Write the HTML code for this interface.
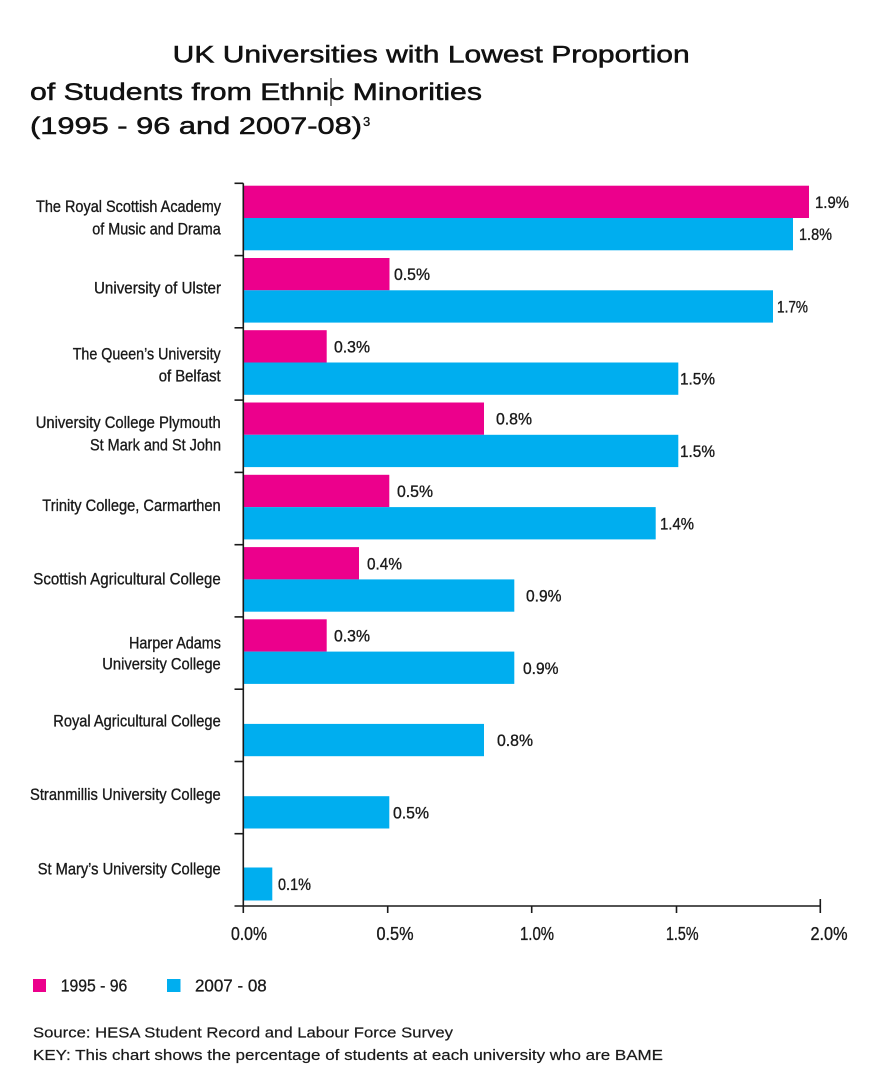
<!DOCTYPE html>
<html>
<head>
<meta charset="utf-8">
<style>
html,body{margin:0;padding:0;background:#fff;}
svg{display:block;}
text{font-family:"Liberation Sans",sans-serif;}
.t{font-size:24px;fill:#111;stroke:#111;stroke-width:0.5px;}
.c{font-size:17px;fill:#1a1a1a;stroke:#1a1a1a;stroke-width:0.35px;}
.v{font-size:16.5px;fill:#1a1a1a;stroke:#1a1a1a;stroke-width:0.35px;}
.x{font-size:18px;fill:#1a1a1a;stroke:#1a1a1a;stroke-width:0.35px;}
.l{font-size:17.5px;fill:#1a1a1a;stroke:#1a1a1a;stroke-width:0.3px;}
.s{font-size:15px;fill:#1a1a1a;stroke:#1a1a1a;stroke-width:0.2px;}
</style>
</head>
<body>
<svg width="880" height="1078" viewBox="0 0 880 1078" xmlns="http://www.w3.org/2000/svg">
<rect x="0" y="0" width="880" height="1078" fill="#fff"/>

<!-- Title -->
<text class="t" x="172.7" y="62.3" textLength="517" lengthAdjust="spacingAndGlyphs">UK Universities with Lowest Proportion</text>
<text class="t" x="30" y="100" textLength="452" lengthAdjust="spacingAndGlyphs">of Students from Ethnic Minorities</text>
<line x1="331" y1="78" x2="331" y2="106" stroke="#000" stroke-width="1"/>
<text class="t" x="30" y="134" textLength="332" lengthAdjust="spacingAndGlyphs">(1995 - 96 and 2007-08)</text>
<text x="363" y="126" style="font-size:13px;fill:#111;stroke:#111;stroke-width:0.3px;font-family:'Liberation Sans',sans-serif;">3</text>

<!-- Bars -->
<g>
<rect x="243.3" y="185.7" width="565.7" height="32.3" fill="#EC008C"/>
<rect x="243.3" y="218" width="549.7" height="32.3" fill="#00AEEF"/>
<rect x="243.3" y="258" width="146.2" height="32.3" fill="#EC008C"/>
<rect x="243.3" y="290.3" width="529.7" height="32.3" fill="#00AEEF"/>
<rect x="243.3" y="330.2" width="83.4" height="32.3" fill="#EC008C"/>
<rect x="243.3" y="362.5" width="435" height="32.3" fill="#00AEEF"/>
<rect x="243.3" y="402.5" width="240.7" height="32.3" fill="#EC008C"/>
<rect x="243.3" y="434.8" width="435" height="32.3" fill="#00AEEF"/>
<rect x="243.3" y="474.8" width="146" height="32.3" fill="#EC008C"/>
<rect x="243.3" y="507.1" width="412.4" height="32.3" fill="#00AEEF"/>
<rect x="243.3" y="547.1" width="115.7" height="32.3" fill="#EC008C"/>
<rect x="243.3" y="579.4" width="271" height="32.3" fill="#00AEEF"/>
<rect x="243.3" y="619.3" width="83.4" height="32.3" fill="#EC008C"/>
<rect x="243.3" y="651.6" width="271" height="32.3" fill="#00AEEF"/>
<rect x="243.3" y="723.9" width="240.7" height="32.3" fill="#00AEEF"/>
<rect x="243.3" y="796.2" width="146" height="32.3" fill="#00AEEF"/>
<rect x="243.3" y="867.5" width="29" height="33" fill="#00AEEF"/>
</g>

<!-- Axes -->
<g stroke="#1a1a1a" stroke-width="1.6" fill="none">
<line x1="243.3" y1="183.3" x2="243.3" y2="913"/>
<line x1="234.5" y1="906" x2="820.3" y2="906"/>
<line x1="234.5" y1="183.3" x2="243.3" y2="183.3"/>
<line x1="234.5" y1="255.6" x2="243.3" y2="255.6"/>
<line x1="234.5" y1="327.8" x2="243.3" y2="327.8"/>
<line x1="234.5" y1="400.1" x2="243.3" y2="400.1"/>
<line x1="234.5" y1="472.4" x2="243.3" y2="472.4"/>
<line x1="234.5" y1="544.7" x2="243.3" y2="544.7"/>
<line x1="234.5" y1="616.9" x2="243.3" y2="616.9"/>
<line x1="234.5" y1="689.2" x2="243.3" y2="689.2"/>
<line x1="234.5" y1="761.5" x2="243.3" y2="761.5"/>
<line x1="234.5" y1="833.7" x2="243.3" y2="833.7"/>
<line x1="387.7" y1="906" x2="387.7" y2="913"/>
<line x1="531.7" y1="906" x2="531.7" y2="913"/>
<line x1="676.5" y1="906" x2="676.5" y2="913"/>
<line x1="820.3" y1="899" x2="820.3" y2="913"/>
</g>

<!-- X tick labels -->
<text class="x" x="231" y="940" textLength="36" lengthAdjust="spacingAndGlyphs">0.0%</text>
<text class="x" x="376.5" y="940" textLength="37" lengthAdjust="spacingAndGlyphs">0.5%</text>
<text class="x" x="520" y="940" textLength="34" lengthAdjust="spacingAndGlyphs">1.0%</text>
<text class="x" x="666" y="940" textLength="32.5" lengthAdjust="spacingAndGlyphs">1.5%</text>
<text class="x" x="810.5" y="940" textLength="37" lengthAdjust="spacingAndGlyphs">2.0%</text>

<!-- Value labels -->
<text class="v" x="815" y="208" textLength="34" lengthAdjust="spacingAndGlyphs">1.9%</text>
<text class="v" x="799" y="240.2" textLength="33" lengthAdjust="spacingAndGlyphs">1.8%</text>
<text class="v" x="394" y="280.2" textLength="36" lengthAdjust="spacingAndGlyphs">0.5%</text>
<text class="v" x="777" y="312.5" textLength="31" lengthAdjust="spacingAndGlyphs">1.7%</text>
<text class="v" x="334" y="352.4" textLength="36" lengthAdjust="spacingAndGlyphs">0.3%</text>
<text class="v" x="680" y="384.7" textLength="35" lengthAdjust="spacingAndGlyphs">1.5%</text>
<text class="v" x="496" y="424.7" textLength="36" lengthAdjust="spacingAndGlyphs">0.8%</text>
<text class="v" x="680" y="457" textLength="35" lengthAdjust="spacingAndGlyphs">1.5%</text>
<text class="v" x="397" y="497" textLength="36" lengthAdjust="spacingAndGlyphs">0.5%</text>
<text class="v" x="660" y="529.3" textLength="34" lengthAdjust="spacingAndGlyphs">1.4%</text>
<text class="v" x="367" y="569.3" textLength="35" lengthAdjust="spacingAndGlyphs">0.4%</text>
<text class="v" x="526" y="601.6" textLength="35.5" lengthAdjust="spacingAndGlyphs">0.9%</text>
<text class="v" x="334" y="641.5" textLength="36" lengthAdjust="spacingAndGlyphs">0.3%</text>
<text class="v" x="523" y="673.8" textLength="35.5" lengthAdjust="spacingAndGlyphs">0.9%</text>
<text class="v" x="497" y="746.1" textLength="36" lengthAdjust="spacingAndGlyphs">0.8%</text>
<text class="v" x="393" y="818.4" textLength="36" lengthAdjust="spacingAndGlyphs">0.5%</text>
<text class="v" x="278" y="890" textLength="33" lengthAdjust="spacingAndGlyphs">0.1%</text>

<!-- Category labels -->
<text class="c" x="36" y="212" textLength="185" lengthAdjust="spacingAndGlyphs">The Royal Scottish Academy</text>
<text class="c" x="92.3" y="234.7" textLength="128.4" lengthAdjust="spacingAndGlyphs">of Music and Drama</text>
<text class="c" x="94" y="293.3" textLength="127" lengthAdjust="spacingAndGlyphs">University of Ulster</text>
<text class="c" x="72.7" y="359.3" textLength="148" lengthAdjust="spacingAndGlyphs">The Queen’s University</text>
<text class="c" x="158.7" y="381.7" textLength="62" lengthAdjust="spacingAndGlyphs">of Belfast</text>
<text class="c" x="35.7" y="428" textLength="185" lengthAdjust="spacingAndGlyphs">University College Plymouth</text>
<text class="c" x="90" y="450.3" textLength="131" lengthAdjust="spacingAndGlyphs">St Mark and St John</text>
<text class="c" x="42.3" y="511" textLength="178.4" lengthAdjust="spacingAndGlyphs">Trinity College, Carmarthen</text>
<text class="c" x="33.3" y="584.3" textLength="187.4" lengthAdjust="spacingAndGlyphs">Scottish Agricultural College</text>
<text class="c" x="129" y="648.7" textLength="92" lengthAdjust="spacingAndGlyphs">Harper Adams</text>
<text class="c" x="102.3" y="669.3" textLength="118.4" lengthAdjust="spacingAndGlyphs">University College</text>
<text class="c" x="53.3" y="726.7" textLength="167.4" lengthAdjust="spacingAndGlyphs">Royal Agricultural College</text>
<text class="c" x="30" y="800" textLength="190.7" lengthAdjust="spacingAndGlyphs">Stranmillis University College</text>
<text class="c" x="37.7" y="874.3" textLength="183" lengthAdjust="spacingAndGlyphs">St Mary’s University College</text>

<!-- Legend -->
<rect x="33" y="979" width="13" height="13" fill="#EC008C"/>
<text class="l" x="60.7" y="991.7" textLength="66.6" lengthAdjust="spacingAndGlyphs">1995 - 96</text>
<rect x="167" y="979" width="13.5" height="13" fill="#00AEEF"/>
<text class="l" x="195" y="991.7" textLength="71.7" lengthAdjust="spacingAndGlyphs">2007 - 08</text>

<!-- Source -->
<text class="s" x="33" y="1037.3" textLength="420" lengthAdjust="spacingAndGlyphs">Source: HESA Student Record and Labour Force Survey</text>
<text class="s" x="33" y="1060" textLength="630" lengthAdjust="spacingAndGlyphs">KEY: This chart shows the percentage of students at each university who are BAME</text>
</svg>
</body>
</html>
